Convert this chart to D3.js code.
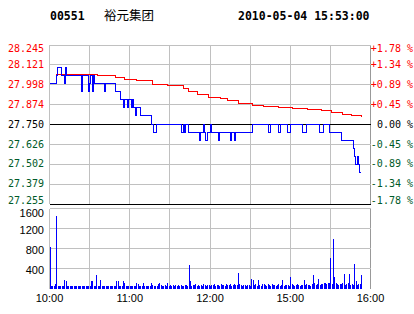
<!DOCTYPE html>
<html>
<head>
<meta charset="utf-8">
<script src="https://cdn.jsdelivr.net/npm/d3@7"></script>
<style>
  body { margin: 0; background: #fff; }
  svg { display: block; }
  .mono { font-family: "DejaVu Sans Mono", monospace; }
  .sans { font-family: "Liberation Sans", Arial, sans-serif; }
</style>
</head>
<body>
<svg id="chart" width="414" height="314"></svg>
<script>
// header
const stockCode = "00551";
const stockName = "裕元集团";
const stamp = "2010-05-04 15:53:00";

// price axis
const prevClose = 27.75;
const priceTicks = [28.245, 28.121, 27.998, 27.874, 27.750, 27.626, 27.502, 27.379, 27.255];
const pctTicks = ["+1.78 %", "+1.34 %", "+0.89 %", "+0.45 %", "0.00 %", "-0.45 %", "-0.89 %", "-1.34 %", "-1.78 %"];

// time axis (minutes of the trading day, 10:00-12:30 + 14:30-16:00)
const gridMins = [0, 30, 60, 90, 120, 150, 180, 210, 240];
const timeMins = [0, 60, 120, 180, 240];
const timeLabels = ["10:00", "11:00", "12:00", "15:00", "16:00"];

// volume axis
const volTicks = [1600, 1200, 800, 400];

// last price, change points (minute, price)
const priceMins = [0, 5, 6, 9, 11, 12, 13, 24, 25, 29, 30, 31, 32, 33, 34, 41, 42, 49, 53, 55, 56, 58, 59, 61, 62, 63, 64, 65, 68,
  76, 78, 80, 99, 100, 101, 102, 104, 112, 113, 115, 116, 117, 118, 120, 121, 126, 127, 135, 136, 138, 139,
  152, 164, 165, 171, 173, 178, 180, 189, 192, 202, 205, 209, 218, 227, 228, 229, 230, 231, 232, 233];
const priceVals = [28.00, 28.05, 28.10, 28.05, 28.00, 28.10, 28.05, 27.95, 28.05, 27.95, 28.00, 28.05, 27.95, 28.05, 28.00, 27.95, 28.00, 27.95, 27.90, 27.85, 27.90, 27.85, 27.90, 27.85, 27.90, 27.85, 27.80, 27.85, 27.80,
  27.75, 27.70, 27.75, 27.70, 27.75, 27.70, 27.75, 27.70, 27.65, 27.70, 27.75, 27.70, 27.65, 27.70, 27.75, 27.70, 27.65, 27.70, 27.65, 27.70, 27.65, 27.70,
  27.75, 27.70, 27.75, 27.70, 27.75, 27.70, 27.75, 27.70, 27.75, 27.70, 27.75, 27.70, 27.65, 27.60, 27.55, 27.50, 27.55, 27.50, 27.45, 27.45];

// average price, change points
const avgMins = [0, 5, 36, 49, 56, 65, 77, 88, 100, 104, 111, 119, 128, 133, 141, 152, 160, 171, 182, 193, 203, 211, 219, 226, 233];
const avgVals = [28.00, 28.059, 28.049, 28.039, 28.028, 28.018, 27.998, 27.987, 27.971, 27.95, 27.936, 27.915, 27.909, 27.899, 27.878,
  27.868, 27.857, 27.853, 27.847, 27.841, 27.837, 27.82, 27.812, 27.801, 27.791];

// volume per minute
const volumes = [
  840, 60, 40, 60, 90, 1460, 40, 40, 60, 40,
  40, 180, 160, 40, 40, 40, 40, 40, 40, 40,
  40, 40, 40, 40, 40, 40, 40, 40, 40, 40,
  40, 140, 140, 60, 40, 280, 60, 60, 180, 60,
  60, 40, 60, 40, 40, 40, 40, 40, 40, 40,
  160, 160, 60, 40, 40, 140, 120, 60, 60, 40,
  60, 60, 40, 60, 60, 110, 90, 60, 40, 60,
  110, 60, 60, 40, 60, 60, 110, 70, 60, 60,
  60, 90, 110, 70, 60, 60, 70, 60, 110, 40,
  70, 60, 70, 60, 70, 60, 70, 60, 80, 60,
  60, 70, 80, 60, 470, 140, 60, 70, 80, 90,
  60, 70, 60, 80, 60, 90, 70, 60, 80, 70,
  60, 80, 70, 90, 60, 70, 80, 60, 90, 70,
  80, 60, 90, 70, 80, 100, 60, 70, 90, 80,
  70, 320, 100, 70, 60, 80, 70, 60, 80, 70,
  60, 200, 180, 70, 90, 60, 180, 70, 60, 90,
  100, 80, 60, 100, 70, 60, 90, 80, 70, 60,
  70, 90, 60, 70, 180, 60, 80, 70, 80, 60,
  230, 100, 70, 60, 80, 100, 70, 60, 80, 70,
  180, 70, 100, 80, 70, 60, 90, 270, 120, 80,
  100, 190, 80, 90, 100, 120, 110, 100, 120, 110,
  620, 100, 1000, 230, 120, 100, 80, 100, 100, 120,
  300, 80, 100, 110, 290, 80, 100, 80, 500, 140,
  80, 100, 90, 270
];

const red = "#ff0000", green = "#005a28", grid = "#c0c0c0";

const svg = d3.select("#chart");

const x = d3.scaleLinear().domain([0, 240]).range([49.5, 370.5]);
const y = d3.scaleLinear().domain([27.255, 28.245]).range([203.5, 44.5]);
const yv = d3.scaleLinear().domain([0, 1600]).range([288.5, 208.5]);

// header text
svg.append("text").attr("class", "mono").attr("x", 50).attr("y", 20)
  .style("font-size", "11.5px").style("font-weight", "bold").text(stockCode);
svg.append("text").attr("x", 104).attr("y", 20)
  .style("font-family", "'Noto Sans CJK SC'").style("font-size", "12.5px").text(stockName);
svg.append("text").attr("class", "mono").attr("x", 238).attr("y", 20)
  .style("font-size", "11.5px").style("font-weight", "bold").text(stamp);

const gGrid = svg.append("g").attr("shape-rendering", "crispEdges");

// price panel grid
gGrid.selectAll(".pv").data(gridMins).enter().append("line")
  .attr("x1", d => x(d)).attr("x2", d => x(d))
  .attr("y1", y(28.245)).attr("y2", y(27.255))
  .attr("stroke", (d, i) => i === gridMins.length - 1 ? "#999" : grid);
gGrid.selectAll(".ph").data(priceTicks).enter().append("line")
  .attr("x1", x(0)).attr("x2", x(240))
  .attr("y1", d => Math.round(y(d)) + 0.5).attr("y2", d => Math.round(y(d)) + 0.5)
  .attr("stroke", (d, i) => (i === 4 || i === 8) ? "#000" : grid);

// volume panel grid
gGrid.selectAll(".vv").data(gridMins).enter().append("line")
  .attr("x1", d => x(d)).attr("x2", d => x(d))
  .attr("y1", yv(1600)).attr("y2", yv(0))
  .attr("stroke", (d, i) => i === gridMins.length - 1 ? "#999" : grid);
gGrid.selectAll(".vh").data(volTicks).enter().append("line")
  .attr("x1", x(0)).attr("x2", x(240))
  .attr("y1", d => yv(d)).attr("y2", d => yv(d))
  .attr("stroke", grid);

// left price labels
svg.selectAll(".pl").data(priceTicks).enter().append("text")
  .attr("class", "mono")
  .attr("x", 44)
  .attr("y", d => Math.min(Math.max(y(d), 48), 200))
  .attr("dy", "0.36em")
  .attr("text-anchor", "end")
  .style("font-size", "10px")
  .attr("fill", d => d > prevClose + 0.001 ? red : d < prevClose - 0.001 ? green : "#000")
  .text(d => d.toFixed(3));

// right percent labels
svg.selectAll(".pr").data(priceTicks).enter().append("text")
  .attr("class", "mono")
  .attr("x", 413)
  .attr("y", d => Math.min(Math.max(y(d), 48), 200))
  .attr("dy", "0.36em")
  .attr("text-anchor", "end")
  .style("font-size", "10px")
  .attr("fill", d => d > prevClose + 0.001 ? red : d < prevClose - 0.001 ? green : "#000")
  .text((d, i) => pctTicks[i]);

// volume labels
svg.selectAll(".vl").data(volTicks).enter().append("text")
  .attr("class", "sans")
  .attr("x", 44)
  .attr("y", d => Math.max(yv(d) + 2, 213))
  .attr("dy", "0.36em")
  .attr("text-anchor", "end")
  .style("font-size", "11px")
  .text(d => d);

// time labels
svg.selectAll(".tl").data(timeMins).enter().append("text")
  .attr("class", "sans")
  .attr("x", d => x(d))
  .attr("y", 302)
  .attr("text-anchor", "middle")
  .style("font-size", "11px")
  .text((d, i) => timeLabels[i]);

// volume bars
svg.append("g").attr("shape-rendering", "crispEdges")
  .selectAll("rect").data(volumes).enter().append("rect")
  .attr("x", (d, i) => Math.round(x(i)))
  .attr("width", 1)
  .attr("y", d => Math.round(yv(d)))
  .attr("height", d => Math.round(yv(0)) - Math.round(yv(d)))
  .attr("fill", "#0000ff");

// average line
const avgLine = d3.line()
  .x((d, i) => x(avgMins[i]))
  .y(d => y(d))
  .curve(d3.curveStepAfter);
svg.append("path")
  .attr("d", avgLine(avgVals))
  .attr("fill", "none").attr("stroke", red).attr("stroke-width", 1)
  .attr("shape-rendering", "crispEdges");

// price line
const priceLine = d3.line()
  .x((d, i) => x(priceMins[i]))
  .y(d => y(d))
  .curve(d3.curveStepAfter);
svg.append("path")
  .attr("d", priceLine(priceVals))
  .attr("fill", "none").attr("stroke", "#0000ff").attr("stroke-width", 1)
  .attr("shape-rendering", "crispEdges");
</script>
</body>
</html>
